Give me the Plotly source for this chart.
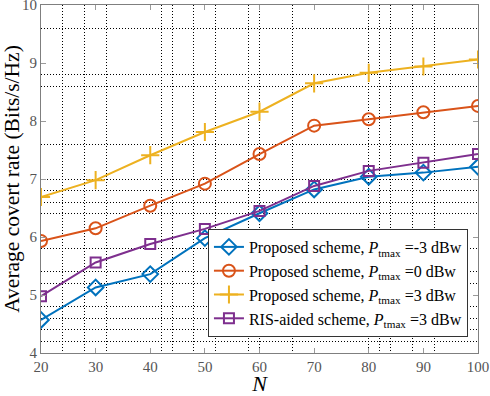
import plotly.graph_objects as go

N = [20, 30, 40, 50, 60, 70, 80, 90, 100]
rate_m3 = [4.57, 5.13, 5.36, 5.98, 6.41, 6.82, 7.04, 7.11, 7.21]
rate_0 = [5.93, 6.15, 6.54, 6.92, 7.43, 7.92, 8.03, 8.15, 8.26]
rate_3 = [6.69, 6.98, 7.41, 7.81, 8.16, 8.65, 8.83, 8.94, 9.06]
rate_ris = [4.98, 5.56, 5.88, 6.14, 6.45, 6.88, 7.14, 7.28, 7.43]

x_ticks = [20, 30, 40, 50, 60, 70, 80, 90, 100]
y_ticks = [4, 5, 6, 7, 8, 9, 10]
x_grid = [24, 28, 32, 42, 44, 48, 52, 58, 60, 66, 80, 82, 84, 88, 92]
y_grid = [4.2, 4.4, 4.6, 4.8, 5.2, 5.4, 5.8, 6.4, 6.6, 6.8, 7.0, 7.6, 8.6, 8.8, 9.6]

names = [
    "Proposed scheme, <i>P</i><sub>tmax</sub> =-3 dBw",
    "Proposed scheme, <i>P</i><sub>tmax</sub> =0 dBw",
    "Proposed scheme, <i>P</i><sub>tmax</sub> =3 dBw",
    "RIS-aided scheme, <i>P</i><sub>tmax</sub> =3 dBw",
]
series = [rate_m3, rate_0, rate_3, rate_ris]
colors = ["#0072BD", "#D95319", "#EDB120", "#7E2F8E"]
symbols = ["diamond-open", "circle-open", "cross-thin-open", "square-open"]
sizes = [12, 12, 13, 10]

fig = go.Figure()
for nm, ys, c, s, sz in zip(names, series, colors, symbols, sizes):
    fig.add_trace(go.Scatter(
        x=N, y=ys, name=nm, mode="lines+markers",
        line=dict(color=c, width=2),
        marker=dict(symbol=s, size=sz, color=c, line=dict(color=c, width=2)),
    ))

font_family = "Liberation Serif"
axis_common = dict(
    showline=True, linecolor="#7f7f7f", linewidth=1, mirror="ticks",
    ticks="inside", ticklen=5, tickcolor="#9a9a9a", tickwidth=1,
    showgrid=False, zeroline=False, automargin=False,
    ticklabeloverflow="allow",
    tickfont=dict(family=font_family, size=15, color="#555555"),
)

fig.update_layout(
    width=490, height=396,
    margin=dict(l=41, r=12, t=5, b=43),
    paper_bgcolor="white", plot_bgcolor="white",
    font=dict(family=font_family, color="black"),
    xaxis=dict(
        range=[20, 100], tickmode="array", tickvals=x_ticks,
        title=dict(text="<i>N</i>", font=dict(family=font_family, size=22, color="black"), standoff=5),
        minor=dict(tickmode="array", tickvals=x_grid, showgrid=True, gridcolor="black",
                   gridwidth=1, griddash="1px,2px", ticks=""),
        **axis_common,
    ),
    yaxis=dict(
        range=[4, 10], tickmode="array", tickvals=y_ticks,
        title=dict(text="Average covert rate (Bits/s/Hz)", font=dict(family=font_family, size=21.5, color="black"), standoff=2),
        minor=dict(tickmode="array", tickvals=y_grid, showgrid=True, gridcolor="black",
                   gridwidth=1, griddash="1px,2px", ticks=""),
        **axis_common,
    ),
    legend=dict(
        x=0.977, y=0.046, xanchor="right", yanchor="bottom",
        bgcolor="white", bordercolor="#333333", borderwidth=1,
        font=dict(family=font_family, size=16, color="black"),
        tracegroupgap=0, itemwidth=30,
    ),
    showlegend=True,
)

fig.write_html(
    "out.html",
    config={"displayModeBar": False},
    post_script="document.body.style.margin='0';document.body.style.overflow='hidden';",
)
